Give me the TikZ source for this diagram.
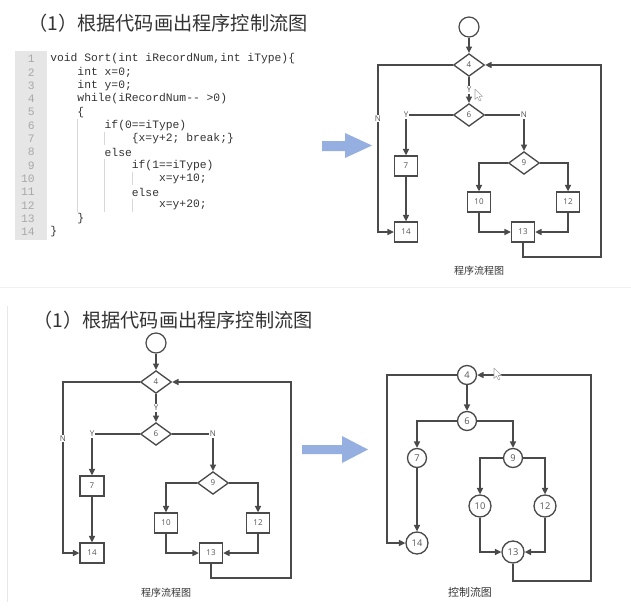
\documentclass[tikz,border=0pt]{standalone}
\usepackage{fontspec}
\setmainfont{Open Sans}
\newfontfamily\cjk{Noto Sans CJK SC}
\newfontfamily\code{Liberation Mono}
\usetikzlibrary{shapes.geometric,arrows.meta}
\definecolor{lc}{HTML}{4A4A4A}
\definecolor{tc}{HTML}{555555}
\definecolor{ttl}{HTML}{333333}
\definecolor{blu}{RGB}{150,175,225}
\definecolor{lnum}{HTML}{A8A8A8}
\definecolor{gcol}{HTML}{E6E6E6}
\definecolor{guide}{HTML}{D8D8D8}
\tikzset{
  ln/.style={draw=lc, line width=1pt},
  arr/.style={ln, -{Triangle[length=4.8pt,width=4.5pt]}},
  dia/.style={diamond, draw=lc, line width=1pt, minimum width=23.25pt, minimum height=17pt, inner sep=0pt, text=tc, font=\fontsize{6}{7}\selectfont},
  bx/.style={rectangle, draw=lc, line width=1pt, minimum width=17.25pt, minimum height=15pt, inner sep=0pt, text=tc, font=\fontsize{6}{7}\selectfont},
  startc/.style={circle, draw=lc, line width=0.9pt, minimum size=15pt, inner sep=0pt},
  cir/.style={circle, draw=lc, line width=1pt, minimum size=14.25pt, inner sep=0pt, text=tc, font=\fontsize{7}{8}\selectfont},
  cirb/.style={cir, minimum size=16.5pt},
  lbl/.style={fill=white, inner sep=0.8pt, text=tc, font=\fontsize{6}{7}\selectfont},
  captxt/.style={text=ttl, inner sep=0pt, font=\cjk\fontsize{7.5}{8}\selectfont},
  ttlstyle/.style={anchor=west, text=ttl, inner sep=0pt, font=\cjk\fontsize{14.4}{16}\selectfont},
  cl/.style={anchor=west, inner sep=0pt, text=black!80, font=\code\fontsize{8.5}{10}\selectfont},
  nl/.style={anchor=east, inner sep=0pt, text=lnum, font=\code\fontsize{8.5}{10}\selectfont},
  gl/.style={draw=guide, line width=0.5pt},
  cursor/.style={draw=gray!70, fill=white, line width=0.4pt, line join=round},
}
\begin{document}
\begin{tikzpicture}[x=0.75pt,y=-0.75pt]
\useasboundingbox (0,0) rectangle (631,610);
\fill[white] (0,0) rectangle (631,610);

% faint panel borders
\draw[gray!12, line width=0.6pt] (0,287) -- (631,287);
\draw[gray!18, line width=0.6pt] (7,306) -- (7,602);
\foreach \cx in {18,38,58,77,97,115}{
  \draw[gray!22, line width=0.5pt] (\cx,611) ++(160:8.5) arc[start angle=160, end angle=20, radius=8.5];
}

% titles
\node[ttlstyle] (t1) at (28,23) {（1）根据代码画出程序控制流图};
\node[ttlstyle] (t2) at (33,320) {（1）根据代码画出程序控制流图};

% code block
\fill[gcol] (15,51) rectangle (47,240);
\foreach \k/\yy in {1/59,2/72.3,3/85.6,4/98.9,5/112.2,6/125.5,7/138.8,8/152.1,9/165.4,10/178.7,11/192,12/205.3,13/218.6,14/231.9}{
  \node[nl] (n\k) at (35,\yy) {\k};
}
% indent guides
\draw[gl] (77,118.8) -- (77,212);
\draw[gl] (104,132.2) -- (104,145.4);
\draw[gl] (104,158.8) -- (104,212);
\draw[gl] (132,172) -- (132,185.4);
\draw[gl] (132,198.6) -- (132,212);
\node[cl] (l1) at (50,59) {void Sort(int iRecordNum,int iType)\{};
\node[cl] (l2) at (77.2,72.3) {int x=0;};
\node[cl] (l3) at (77.2,85.6) {int y=0;};
\node[cl] (l4) at (77.2,98.9) {while(iRecordNum-{}- >0)};
\node[cl] (l5) at (77.2,112.2) {\{};
\node[cl] (l6) at (104.4,125.5) {if(0==iType)};
\node[cl] (l7) at (131.6,138.8) {\{x=y+2; break;\}};
\node[cl] (l8) at (104.4,152.1) {else};
\node[cl] (l9) at (131.6,165.4) {if(1==iType)};
\node[cl] (l10) at (158.8,178.7) {x=y+10;};
\node[cl] (l11) at (131.6,192) {else};
\node[cl] (l12) at (158.8,205.3) {x=y+20;};
\node[cl] (l13) at (77.2,218.6) {\}};
\node[cl] (l14) at (50,231.9) {\}};

% blue arrows
\fill[blu] (322,141) -- (345,141) -- (345,133) -- (372,145.5) -- (345,158) -- (345,151) -- (322,151) -- cycle;
\fill[blu] (302,445) -- (342,445) -- (342,436) -- (368,449.5) -- (342,463) -- (342,454) -- (302,454) -- cycle;

% ---------- top flowchart ----------
\node[startc] (s1) at (469,27) {};
\node[dia] (d4a) at (469,65) {4};
\node[dia] (d6a) at (469,115) {6};
\node[bx] (b7a) at (406,166) {7};
\node[bx] (b14a) at (406,232) {14};
\node[dia] (d9a) at (524,163) {9};
\node[bx] (b10a) at (479,202) {10};
\node[bx] (b12a) at (568,202) {12};
\node[bx] (b13a) at (523,232) {13};
\coordinate (la) at (378,65);
\coordinate (ya) at (406,115);
\coordinate (na) at (524,115);
\coordinate (ra) at (601,257);
\draw[arr] (s1) -- (d4a);
\draw[arr] (d4a) -- node[lbl] (ya1) {Y} (d6a);
\draw[arr] (d4a.west) -- (la) |- node[lbl, pos=0.16] (na1) {N} (b14a.west);
\draw[arr] (d6a.west) -- (ya) node[lbl] (ya2) {Y} -- (b7a.north);
\draw[arr] (d6a.east) -- (na) node[lbl] (na2) {N} -- (d9a.north);
\draw[arr] (b7a) -- (b14a);
\draw[arr] (d9a.west) -| (b10a.north);
\draw[arr] (d9a.east) -| (b12a.north);
\draw[arr] (b10a.south) |- (b13a.west);
\draw[arr] (b12a.south) |- (b13a.east);
\draw[arr] (b13a.south) |- (ra) |- (d4a.east);
\node[captxt] (capa) at (479,271) {程序流程图};
\draw[cursor] (475,89) -- ++(0,10.5) -- ++(2.4,-2.4) -- ++(1.9,3.8) -- ++(1.7,-0.8) -- ++(-1.9,-3.7) -- ++(3.4,0) -- cycle;

% ---------- bottom-left flowchart ----------
\node[startc] (s2) at (156,343) {};
\node[dia] (d4b) at (156,382) {4};
\node[dia] (d6b) at (156,434) {6};
\node[bx, minimum width=18pt] (b7b) at (92,486) {7};
\node[bx, minimum width=18pt] (b14b) at (92,553) {14};
\node[dia] (d9b) at (213,483) {9};
\node[bx] (b10b) at (166,523) {10};
\node[bx] (b12b) at (258,523) {12};
\node[bx] (b13b) at (211,553) {13};
\coordinate (lb) at (63,382);
\coordinate (yb) at (92,434);
\coordinate (nb) at (213,434);
\coordinate (rb) at (291,578);
\draw[arr] (s2) -- (d4b);
\draw[arr] (d4b) -- node[lbl] (yb1) {Y} (d6b);
\draw[arr] (d4b.west) -- (lb) |- node[lbl, pos=0.165] (nb1) {N} (b14b.west);
\draw[arr] (d6b.west) -- (yb) node[lbl] (yb2) {Y} -- (b7b.north);
\draw[arr] (d6b.east) -- (nb) node[lbl] (nb2) {N} -- (d9b.north);
\draw[arr] (b7b) -- (b14b);
\draw[arr] (d9b.west) -| (b10b.north);
\draw[arr] (d9b.east) -| (b12b.north);
\draw[arr] (b10b.south) |- (b13b.west);
\draw[arr] (b12b.south) |- (b13b.east);
\draw[arr] (b13b.south) |- (rb) |- (d4b.east);
\node[captxt] (capb) at (166,593) {程序流程图};

% ---------- bottom-right control flow graph ----------
\node[cir] (c4) at (467,375) {4};
\node[cir] (c6) at (467,421) {6};
\node[cir] (c7) at (417,458) {7};
\node[cirb] (c14) at (417,543) {14};
\node[cir] (c9) at (513,458) {9};
\node[cirb] (c10) at (480,506) {10};
\node[cirb] (c12) at (545,506) {12};
\node[cirb] (c13) at (513,552) {13};
\coordinate (lc1) at (387,375);
\coordinate (rc1) at (591,581);
\draw[arr] (c4) -- (c6);
\draw[arr] (c4.west) -- (lc1) |- (c14.west);
\draw[arr] (c6.west) -| (c7.north);
\draw[arr] (c6.east) -| (c9.north);
\draw[arr] (c7) -- (c14);
\draw[arr] (c9.west) -| (c10.north);
\draw[arr] (c9.east) -| (c12.north);
\draw[arr] (c10.south) |- (c13.west);
\draw[arr] (c12.south) |- (c13.east);
\draw[arr] (c13.south) |- (rc1) |- (c4.east);
\node[captxt, font=\cjk\fontsize{8.2}{9}\selectfont] (capc) at (470,592) {控制流图};
\draw[cursor] (494,368) -- ++(0,10.5) -- ++(2.4,-2.4) -- ++(1.9,3.8) -- ++(1.7,-0.8) -- ++(-1.9,-3.7) -- ++(3.4,0) -- cycle;
\end{tikzpicture}
\end{document}
